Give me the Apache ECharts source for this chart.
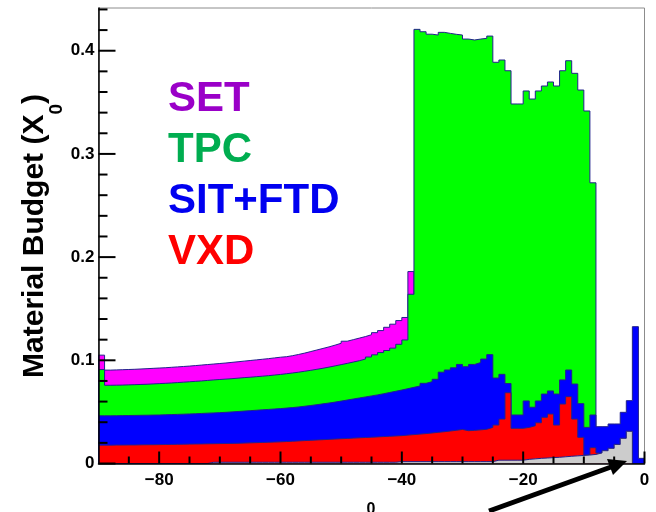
<!DOCTYPE html>
<html>
<head>
<meta charset="utf-8">
<script src="https://cdn.jsdelivr.net/npm/echarts@6/dist/echarts.min.js"></script>
<style>
html, body { margin: 0; padding: 0; background: #fff; }
#chart { width: 656px; height: 512px; }
</style>
</head>
<body>
<div id="chart"></div>
<script>
// 1 degree bins starting at theta = -90
const binStart = -90;

// cumulative stack tops (X0), one value per bin
const setTop = [0.105, 0.0905, 0.0907, 0.0909, 0.0911, 0.0913, 0.0916, 0.0919, 0.0922, 0.0925,
  0.0928, 0.0932, 0.0936, 0.094, 0.0944, 0.0949, 0.0954, 0.0959, 0.0964, 0.0969,
  0.0974, 0.098, 0.0986, 0.0992, 0.0998, 0.1004, 0.101, 0.1016, 0.1023, 0.103,
  0.1035, 0.1045, 0.1057, 0.107, 0.1085, 0.11, 0.1115, 0.113, 0.1147, 0.1165,
  0.1185, 0.12, 0.1215, 0.123, 0.1248, 0.1268, 0.1288, 0.132, 0.135, 0.1385,
  0.1415, 0.186];

const tpcTop = [0.091, 0.0758, 0.0759, 0.076, 0.0762, 0.0764, 0.0766, 0.0768, 0.0771, 0.0774,
  0.0777, 0.078, 0.0784, 0.0788, 0.0792, 0.0796, 0.08, 0.0805, 0.081, 0.0814,
  0.0818, 0.0822, 0.0827, 0.0832, 0.0836, 0.0841, 0.0846, 0.0851, 0.0857, 0.0863,
  0.087, 0.0877, 0.0885, 0.0894, 0.0903, 0.0913, 0.0923, 0.0934, 0.0946, 0.0958,
  0.097, 0.0983, 0.0996, 0.1012, 0.1032, 0.1053, 0.1075, 0.1095, 0.1118, 0.1155,
  0.1197, 0.164,
  0.4207, 0.4184, 0.416, 0.4152, 0.4178, 0.4168, 0.4159, 0.4152, 0.4113, 0.4104,
  0.4113, 0.412, 0.4142, 0.3888, 0.391, 0.3806, 0.3484, 0.3484, 0.361, 0.3532,
  0.361, 0.3658, 0.3697, 0.3658, 0.3806, 0.3903, 0.3781, 0.3619, 0.3416, 0.272];

const sitTop = [0.0462, 0.0462, 0.0463, 0.0464, 0.0465, 0.0466, 0.0467, 0.0468, 0.0469, 0.047,
  0.0472, 0.0474, 0.0476, 0.0478, 0.048, 0.0482, 0.0485, 0.0488, 0.049, 0.0493,
  0.0496, 0.05, 0.0504, 0.0508, 0.0512, 0.0516, 0.052, 0.0524, 0.0528, 0.0532,
  0.0537, 0.0542, 0.0548, 0.0555, 0.0562, 0.057, 0.0578, 0.0586, 0.0595, 0.0605,
  0.0615, 0.0625, 0.0635, 0.0645, 0.0655, 0.0665, 0.0676, 0.0688, 0.07, 0.0712,
  0.0725, 0.0738, 0.0751, 0.0777, 0.0793, 0.0816, 0.0885, 0.0906, 0.0927, 0.096,
  0.0938, 0.096, 0.0978, 0.1012, 0.1055, 0.0828, 0.0864, 0.0775, 0.047, 0.047,
  0.0606, 0.0545, 0.0606, 0.0673, 0.0703, 0.0673, 0.081, 0.0906, 0.077, 0.058,
  0.035, 0.047, 0.0357, 0.0357, 0.0383, 0.0383, 0.0496, 0.0609, 0.1326, 0.005];

const vxdTop = [0.0178, 0.0178, 0.0179, 0.0179, 0.018, 0.018, 0.0181, 0.0182, 0.0182, 0.0183,
  0.0184, 0.0185, 0.0186, 0.0187, 0.0188, 0.0189, 0.019, 0.0191, 0.0192, 0.0193,
  0.0194, 0.0195, 0.0196, 0.0198, 0.02, 0.0202, 0.0204, 0.0206, 0.0208, 0.021,
  0.0213, 0.0216, 0.0219, 0.0222, 0.0225, 0.0228, 0.0231, 0.0234, 0.0237, 0.024,
  0.0243, 0.0246, 0.0249, 0.0252, 0.0255, 0.0258, 0.0261, 0.0264, 0.0267, 0.027,
  0.0275, 0.028, 0.0285, 0.029, 0.0296, 0.0302, 0.0308, 0.0315, 0.0322, 0.033,
  0.0318, 0.0321, 0.0326, 0.0332, 0.035, 0.0373, 0.0431, 0.0686, 0.0341, 0.0341,
  0.035, 0.0366, 0.0395, 0.0448, 0.048, 0.0373, 0.0577, 0.0648, 0.0431, 0.0254,
  0.0082, 0.0153, 0.0102, 0.0124, 0.0147, 0.0185, 0.0244, 0.0312, 0, 0];

const pipeTop = [0, 0, 0, 0, 0, 0, 0, 0, 0, 0,
  0, 0, 0, 0, 0, 0, 0, 0, 0.0012, 0.0012,
  0.0012, 0.0012, 0.0012, 0.0012, 0.0012, 0.0012, 0.0012, 0.0012, 0.0012, 0.0012,
  0.0012, 0.0012, 0.0012, 0.0012, 0.0012, 0.0012, 0.0012, 0.0012, 0.0012, 0.0012,
  0.0012, 0.0012, 0.0012, 0.0012, 0.0012, 0.0012, 0.0012, 0.0012, 0.0012, 0.0018,
  0.0018, 0.0018, 0.0018, 0.0018, 0.0018, 0.0018, 0.0018, 0.0018, 0.0018, 0.0018,
  0.0018, 0.0018, 0.0018, 0.0018, 0.0018, 0.0032, 0.0032, 0.0032, 0.0032, 0.0032,
  0.004, 0.0045, 0.005, 0.0053, 0.0057, 0.006, 0.0065, 0.007, 0.0074, 0.0078,
  0.0082, 0.0088, 0.0102, 0.0124, 0.0147, 0.0185, 0.0244, 0.0312, 0, 0];

const legendNames = ['SET', 'TPC', 'SIT+FTD', 'VXD'];
const legendColors = ['#9a00c8', '#00ad50', '#0000f0', '#ff0000'];

const xLabels = [-80, -60, -40, -20, 0];
const xMinor = [-85, -75, -70, -65, -55, -50, -45, -35, -30, -25, -15, -10, -5];
const yLabels = [0, 0.1, 0.2, 0.3, 0.4];
const yMinor = [0.02, 0.04, 0.06, 0.08, 0.12, 0.14, 0.16, 0.18, 0.22, 0.24, 0.26, 0.28,
  0.32, 0.34, 0.36, 0.38, 0.42, 0.44];

const FONT = '"Liberation Sans", Arial, Helvetica, sans-serif';

// histogram outline points for a step line
function hist(tops) {
  const pts = [[binStart, 0]];
  tops.forEach((v, i) => pts.push([binStart + i, v]));
  pts.push([binStart + tops.length, tops[tops.length - 1]]);
  pts.push([binStart + tops.length, 0]);
  return pts;
}

function layer(name, tops, color, z) {
  return {
    name: name,
    type: 'line',
    step: 'end',
    z: z,
    showSymbol: false,
    symbol: 'none',
    data: hist(tops),
    lineStyle: { color: '#22228c', width: 1 },
    areaStyle: { color: color, opacity: 1 },
    silent: true
  };
}

const chart = echarts.init(document.getElementById('chart'));

chart.setOption({
  animation: false,
  grid: {
    left: 98.5, right: 11.5, top: 8, bottom: 48.5,
    show: true, borderColor: '#8c8c8c', borderWidth: 1, backgroundColor: 'transparent'
  },
  xAxis: {
    type: 'value', min: -90, max: 0, zlevel: 1,
    axisLine: { show: true, onZero: false, lineStyle: { color: '#000', width: 1.5 } },
    axisTick: { show: false },
    axisLabel: {
      customValues: xLabels, margin: 8, color: '#000', fontSize: 17, fontWeight: 'bold', fontFamily: FONT,
      formatter: v => String(v).replace('-', '\u2212')
    },
    splitLine: { show: false }
  },
  yAxis: {
    type: 'value', min: 0, max: 0.4414, zlevel: 1,
    axisLine: { show: true, onZero: false, lineStyle: { color: '#000', width: 1.5 } },
    axisTick: { show: false },
    axisLabel: {
      customValues: yLabels, margin: 4, color: '#000', fontSize: 17, fontWeight: 'bold', fontFamily: FONT,
      formatter: v => (v === 0 ? '0' : v.toFixed(1))
    },
    splitLine: { show: false }
  },
  series: [
    layer('SET', setTop, '#ff00ff', 2),
    layer('TPC', tpcTop, '#00ff00', 3),
    layer('SIT+FTD', sitTop, '#0000ff', 4),
    layer('VXD', vxdTop, '#ff0000', 5),
    layer('Beam pipe', pipeTop, '#cccccc', 6)
  ]
});

// ROOT style inside ticks on their own layer above the fills, placed through the axis scales
function tick(value, len, horizontal) {
  const p = chart.convertToPixel({ gridIndex: 0 }, horizontal ? [-90, value] : [value, 0]);
  return {
    type: 'line', silent: true, zlevel: 2, z: 100,
    shape: horizontal
      ? { x1: p[0], y1: p[1], x2: p[0] + len, y2: p[1] }
      : { x1: p[0], y1: p[1], x2: p[0], y2: p[1] - len },
    style: { stroke: '#000', lineWidth: 2 }
  };
}

const ticks = [
  ...xLabels.map(v => tick(v, 12, false)),
  ...xMinor.map(v => tick(v, 7, false)),
  ...yLabels.map(v => tick(v, 17, true)),
  ...yMinor.map(v => tick(v, 9, true))
];

chart.setOption({
  graphic: [
    {
      type: 'text', x: 43, y: 236, rotation: Math.PI / 2, zlevel: 2, z: 100,
      style: {
        text: '{a|Material Budget (X}{s|0}{a|)}',
        align: 'center', verticalAlign: 'middle',
        rich: {
          a: { fontSize: 30, fontWeight: 'bold', fontFamily: FONT, fill: '#000', lineHeight: 30, verticalAlign: 'top' },
          s: { fontSize: 19, fontWeight: 'bold', fontFamily: FONT, fill: '#000', lineHeight: 46, verticalAlign: 'bottom' }
        }
      }
    },
    ...legendNames.map((t, i) => ({
      type: 'text', x: 168, y: 99 + i * 51, zlevel: 2, z: 100,
      style: {
        text: t, fill: legendColors[i], font: 'bold 42px ' + FONT,
        align: 'left', verticalAlign: 'middle'
      }
    })),
    {
      type: 'text', x: 371, y: 510, zlevel: 2, z: 100,
      style: { text: '0', fill: '#000', font: 'bold 16px ' + FONT, align: 'center', verticalAlign: 'middle' }
    },
    {
      type: 'line', silent: true, zlevel: 2, z: 100,
      shape: { x1: 489, y1: 511, x2: 611, y2: 467 },
      style: { stroke: '#000', lineWidth: 5 }
    },
    {
      type: 'polygon', silent: true, zlevel: 2, z: 100,
      shape: { points: [[627, 461], [613, 475], [607, 459]] },
      style: { fill: '#000' }
    },
    ...ticks
  ]
});
</script>
</body>
</html>
